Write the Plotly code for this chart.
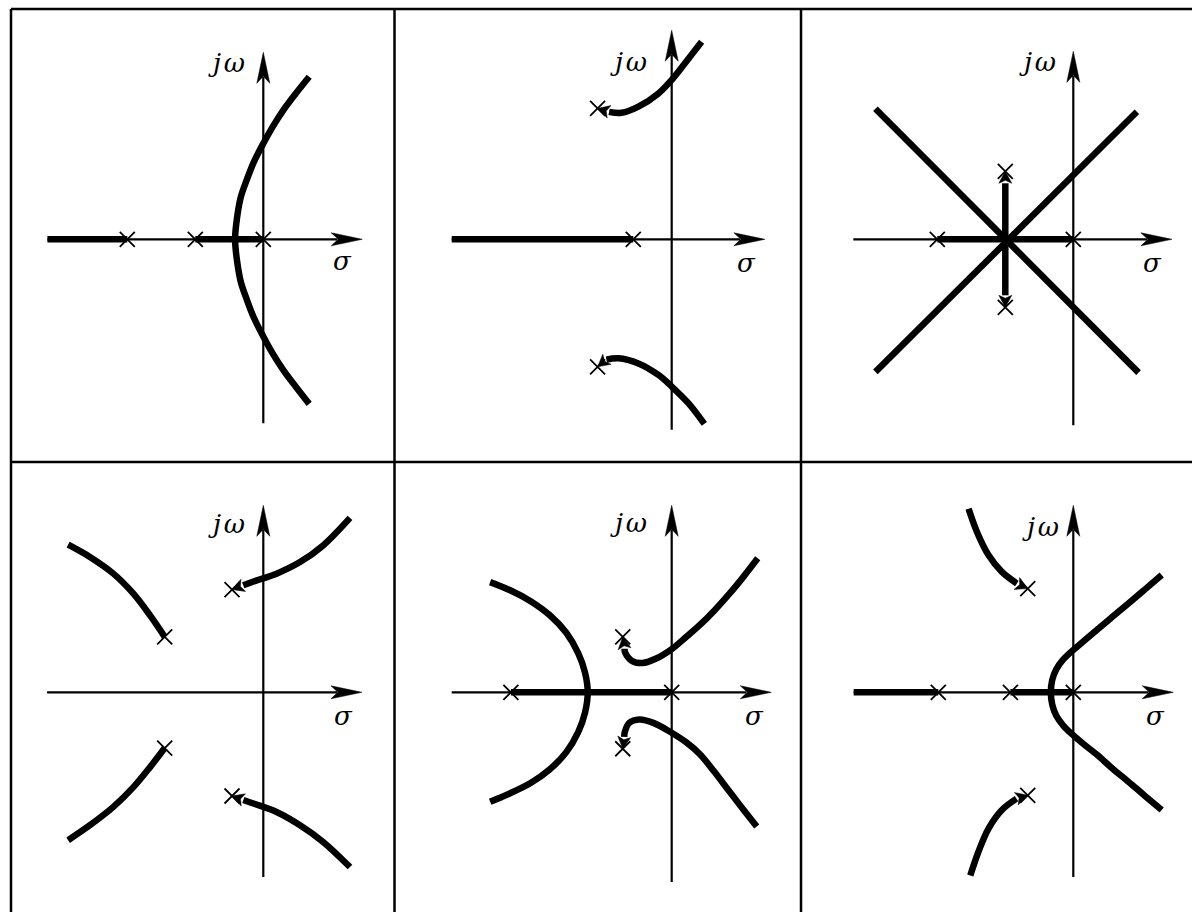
import numpy as np
import plotly.graph_objects as go

# ----------------------------------------------------------------------
# Root-locus sketches in s-plane units (real part, imaginary part)
# ----------------------------------------------------------------------

# (a) poles at 0, -2, -4
a_pole_re = [-4.0, -2.0, 0.0]
a_pole_im = [0.0, 0.0, 0.0]
a_real_locus = [[-6.35, -4.0], [-2.0, 0.0]]
a_curve_re = [1.35, 0.95, 0.59, 0.27, 0.0, -0.28, -0.49, -0.66, -0.76, -0.83,
              -0.76, -0.66, -0.49, -0.28, 0.0, 0.27, 0.59, 0.95, 1.35]
a_curve_im = [4.78, 4.28, 3.80, 3.30, 2.82, 2.27, 1.74, 1.25, 0.72, 0.0,
              -0.72, -1.26, -1.76, -2.30, -2.86, -3.35, -3.85, -4.33, -4.84]

# (b) one real pole, a lightly damped complex pair
b_pole_re = [-1.13, -2.18, -2.18]
b_pole_im = [0.0, 3.85, -3.75]
b_real_locus = [[-6.47, -1.13]]
b_upper_re = [-2.18, -1.86, -1.47, -0.98, -0.39, 0.0, 0.39, 0.88]
b_upper_im = [3.85, 3.75, 3.72, 3.90, 4.29, 4.69, 5.18, 5.81]
b_lower_re = [-2.18, -2.01, -1.57, -0.98, -0.39, 0.0, 0.49, 0.96]
b_lower_im = [-3.75, -3.55, -3.50, -3.65, -3.99, -4.33, -4.82, -5.43]

# (c) poles at 0, -4, -2 +/- 2j
c_pole_re = [-4.0, -2.0, -2.0, 0.0]
c_pole_im = [0.0, 2.0, -2.0, 0.0]
c_real_locus = [[-4.0, 0.0]]
c_diag1_re = [-5.82, 1.92]
c_diag1_im = [3.84, -3.92]
c_diag2_re = [-5.82, 1.87]
c_diag2_im = [-3.90, 3.75]
c_up_re = [-2.0, -2.0]
c_up_im = [2.0, 0.0]
c_down_re = [-2.0, -2.0]
c_down_im = [-2.0, 0.0]

# (d) two complex pairs
d_pole_re = [-0.92, -2.90, -2.90, -0.92]
d_pole_im = [3.02, 1.63, -1.64, -3.05]
d_ur_re = [-0.92, -0.29, 0.39, 1.08, 1.76, 2.55]
d_ur_im = [3.02, 3.26, 3.49, 3.83, 4.32, 5.13]
d_ul_re = [-2.90, -3.33, -3.82, -4.41, -5.10, -5.74]
d_ul_im = [1.63, 2.26, 2.90, 3.49, 3.98, 4.34]
d_ll_re = [-2.90, -3.33, -3.82, -4.41, -5.10, -5.74]
d_ll_im = [-1.64, -2.20, -2.79, -3.37, -3.91, -4.35]
d_lr_re = [-0.92, -0.29, 0.39, 1.08, 1.76, 2.55]
d_lr_im = [-3.05, -3.27, -3.52, -3.91, -4.40, -5.14]

# (e) poles at 0, -4.73, -1.44 +/- 1.65j
e_pole_re = [-4.73, 0.0, -1.44, -1.44]
e_pole_im = [0.0, 0.0, 1.63, -1.66]
e_real_locus = [[-4.73, 0.0]]
e_left_re = [-5.34, -4.75, -4.15, -3.60, -3.10, -2.75, -2.55, -2.47,
             -2.55, -2.75, -3.10, -3.60, -4.15, -4.75, -5.34]
e_left_im = [3.24, 3.00, 2.68, 2.28, 1.75, 1.15, 0.58, 0.0,
             -0.60, -1.17, -1.76, -2.28, -2.67, -2.97, -3.22]
e_upper_re = [-1.44, -1.37, -1.18, -0.86, -0.44, 0.0, 0.44, 0.83, 1.25, 1.70, 2.12, 2.53]
e_upper_im = [1.63, 1.17, 0.93, 0.86, 1.00, 1.27, 1.64, 1.98, 2.40, 2.90, 3.41, 3.94]
e_lower_re = [-1.44, -1.38, -1.25, -0.95, -0.54, -0.05, 0.44, 0.83, 1.25, 1.70, 2.10, 2.50]
e_lower_im = [-1.66, -1.17, -0.90, -0.80, -0.90, -1.16, -1.48, -1.82, -2.33, -2.92, -3.44, -3.95]

# (f) poles at 0, -1.85, -4, -1.34 +/- 3.04j
f_pole_re = [-3.97, -1.85, 0.0, -1.34, -1.34]
f_pole_im = [0.0, 0.0, 0.0, 3.05, -3.03]
f_real_locus = [[-6.46, -3.97], [-1.85, 0.0]]
f_right_re = [2.60, 2.10, 1.62, 1.15, 0.70, 0.30, -0.03, -0.30, -0.50, -0.62, -0.66,
              -0.62, -0.50, -0.30, -0.03, 0.30, 0.70, 1.15, 1.62, 2.10, 2.60]
f_right_im = [3.45, 3.02, 2.61, 2.22, 1.84, 1.50, 1.22, 0.96, 0.68, 0.36, 0.0,
              -0.36, -0.69, -0.97, -1.24, -1.52, -1.84, -2.24, -2.63, -3.04, -3.46]
f_ul_re = [-1.34, -1.41, -1.66, -2.10, -2.49, -2.83, -3.08]
f_ul_im = [3.05, 3.07, 3.20, 3.54, 4.03, 4.71, 5.40]
f_ll_re = [-1.34, -1.41, -1.66, -2.10, -2.49, -2.79, -3.03]
f_ll_im = [-3.03, -3.02, -3.12, -3.46, -4.00, -4.69, -5.39]

# Axis extents per panel: sigma from, sigma arrow tip, jw from, jw arrow tip
axis_sigma_from = [-6.35, -6.47, -6.47, -6.36, -6.47, -6.46]
axis_sigma_tip = [2.91, 2.74, 2.90, 2.90, 2.93, 2.94]
axis_jw_from = [-5.41, -5.60, -5.47, -5.43, -5.58, -5.43]
axis_jw_tip = [5.50, 6.15, 5.53, 5.50, 5.50, 5.50]

# Axis label anchors per panel
label_jw_re = [-1.08, -1.26, -1.05, -1.08, -1.26, -0.96]
label_jw_im = [5.18, 5.21, 5.21, 4.94, 4.97, 4.85]
label_sigma_re = [2.32, 2.20, 2.32, 2.35, 2.44, 2.41]
label_sigma_im = [-0.64, -0.70, -0.70, -0.70, -0.70, -0.70]

# Panel contents: (re, im, arrow toward the pole at the first point)
panels = [
    dict(poles=(a_pole_re, a_pole_im), real=a_real_locus,
         smooth=[(a_curve_re, a_curve_im, False)], straight=[]),
    dict(poles=(b_pole_re, b_pole_im), real=b_real_locus,
         smooth=[(b_upper_re, b_upper_im, True), (b_lower_re, b_lower_im, True)], straight=[]),
    dict(poles=(c_pole_re, c_pole_im), real=c_real_locus,
         smooth=[],
         straight=[(c_diag1_re, c_diag1_im, False), (c_diag2_re, c_diag2_im, False),
                   (c_up_re, c_up_im, True), (c_down_re, c_down_im, True)]),
    dict(poles=(d_pole_re, d_pole_im), real=[],
         smooth=[(d_ur_re, d_ur_im, True), (d_ul_re, d_ul_im, False),
                 (d_ll_re, d_ll_im, False), (d_lr_re, d_lr_im, True)], straight=[]),
    dict(poles=(e_pole_re, e_pole_im), real=e_real_locus,
         smooth=[(e_left_re, e_left_im, False), (e_upper_re, e_upper_im, True),
                 (e_lower_re, e_lower_im, True)], straight=[]),
    dict(poles=(f_pole_re, f_pole_im), real=f_real_locus,
         smooth=[(f_right_re, f_right_im, False), (f_ul_re, f_ul_im, True),
                 (f_ll_re, f_ll_im, True)], straight=[]),
]

# ----------------------------------------------------------------------
# Page geometry (pixels)
# ----------------------------------------------------------------------
W, H = 1192, 912
PX = 34.0                       # pixels per s-plane unit
COL_EDGES = [11.0, 394.5, 801.0, 1192.0]
ROW_EDGES = [9.0, 462.0, 912.0]
ORIGIN_X = [263.3, 671.7, 1073.3]
ORIGIN_Y = [239.3, 692.3]

AXIS_W = 2.2
LOCUS_W = 6.5
FRAME_W = 2.5
INK = "#000000"
LABEL_FONT = dict(family="DejaVu Serif", size=26, color=INK)

AX_HEAD = (31.0, 6.5, 7.0)      # length, half width, notch (px)
LOC_HEAD = (12.0, 6.5, 3.0)


def head(tip, direction, spec):
    length, half, notch = (v / PX for v in spec)
    d = np.asarray(direction, float)
    d = d / np.hypot(*d)
    n = np.array([-d[1], d[0]])
    t = np.asarray(tip, float)
    back = t - d * length
    pts = [t, back + n * half, t - d * (length - notch), back - n * half, t]
    return [p[0] for p in pts], [p[1] for p in pts]


def trim_start(re, im, dist):
    """Point at arc length `dist` from the start, and the remaining path."""
    pts = np.column_stack([re, im]).astype(float)
    acc = 0.0
    for i in range(1, len(pts)):
        seg = np.hypot(*(pts[i] - pts[i - 1]))
        if acc + seg >= dist:
            t = (dist - acc) / seg
            base = pts[i - 1] + t * (pts[i] - pts[i - 1])
            if t > 0.98:
                rest = np.vstack([base, pts[i + 1:]]) if i + 1 < len(pts) else base[None, :]
            else:
                rest = np.vstack([base, pts[i:]])
            return base, rest
        acc += seg
    return pts[-1], pts[-1:]


fig = go.Figure()


def add_line(xs, ys, k, width, shape="linear"):
    fig.add_trace(go.Scatter(
        x=list(xs), y=list(ys), mode="lines", xaxis=f"x{k}", yaxis=f"y{k}",
        line=dict(color=INK, width=width, shape=shape, smoothing=1.0),
        hoverinfo="skip", showlegend=False))


def add_fill(xs, ys, k):
    fig.add_trace(go.Scatter(
        x=xs, y=ys, mode="lines", fill="toself", fillcolor=INK, xaxis=f"x{k}", yaxis=f"y{k}",
        line=dict(color=INK, width=0.5), hoverinfo="skip", showlegend=False))


def add_branch(re, im, arrow, k, shape):
    if arrow:
        base, rest = trim_start(re, im, LOC_HEAD[0] / PX)
        hx, hy = head((re[0], im[0]), (re[0] - base[0], im[0] - base[1]), LOC_HEAD)
        add_line(rest[:, 0], rest[:, 1], k, LOCUS_W, shape)
        add_fill(hx, hy, k)
    else:
        add_line(re, im, k, LOCUS_W, shape)


layout_axes = {}
annotations = []
for idx, p in enumerate(panels):
    k = idx + 1
    r, c = divmod(idx, 3)
    ox, oy = ORIGIN_X[c], ORIGIN_Y[r]
    x0, x1 = COL_EDGES[c], COL_EDGES[c + 1]
    y0, y1 = ROW_EDGES[r], ROW_EDGES[r + 1]
    sfx = "" if k == 1 else str(k)
    layout_axes[f"xaxis{sfx}"] = dict(domain=[x0 / W, x1 / W], range=[(x0 - ox) / PX, (x1 - ox) / PX],
                                      visible=False, fixedrange=True, anchor=f"y{k}")
    layout_axes[f"yaxis{sfx}"] = dict(domain=[1 - y1 / H, 1 - y0 / H], range=[(oy - y1) / PX, (oy - y0) / PX],
                                      visible=False, fixedrange=True, anchor=f"x{k}")

    # coordinate axes with arrow heads
    L = AX_HEAD[0] / PX
    add_line([axis_sigma_from[idx], axis_sigma_tip[idx] - L * 0.8], [0, 0], k, AXIS_W)
    add_line([0, 0], [axis_jw_from[idx], axis_jw_tip[idx] - L * 0.8], k, AXIS_W)
    hx, hy = head((axis_sigma_tip[idx], 0.0), (1, 0), AX_HEAD)
    add_fill(hx, hy, k)
    hx, hy = head((0.0, axis_jw_tip[idx]), (0, 1), AX_HEAD)
    add_fill(hx, hy, k)

    # locus on the real axis, then the branches
    for seg in p["real"]:
        add_line(seg, [0, 0], k, LOCUS_W)
    for re, im, arrow in p["straight"]:
        add_branch(re, im, arrow, k, "linear")
    for re, im, arrow in p["smooth"]:
        add_branch(re, im, arrow, k, "spline")

    # open-loop poles
    fig.add_trace(go.Scatter(
        x=p["poles"][0], y=p["poles"][1], mode="markers", xaxis=f"x{k}", yaxis=f"y{k}",
        marker=dict(symbol="x-thin", size=15, line=dict(color=INK, width=1.8)),
        hoverinfo="skip", showlegend=False))

    annotations.append(dict(x=label_jw_re[idx], y=label_jw_im[idx], xref=f"x{k}", yref=f"y{k}",
                            text="<i>j\u200aω</i>", showarrow=False, font=LABEL_FONT))
    annotations.append(dict(x=label_sigma_re[idx], y=label_sigma_im[idx], xref=f"x{k}", yref=f"y{k}",
                            text="<i>σ</i>", showarrow=False, font=LABEL_FONT))

# frame grid
frame = []
top = 1 - ROW_EDGES[0] / H
left = COL_EDGES[0] / W
frame.append(dict(type="line", xref="paper", yref="paper", x0=left, x1=1.0, y0=top, y1=top))
frame.append(dict(type="line", xref="paper", yref="paper", x0=left, x1=left, y0=0.0, y1=top))
for xe in COL_EDGES[1:3]:
    frame.append(dict(type="line", xref="paper", yref="paper", x0=xe / W, x1=xe / W, y0=0.0, y1=top))
mid = 1 - ROW_EDGES[1] / H
frame.append(dict(type="line", xref="paper", yref="paper", x0=left, x1=1.0, y0=mid, y1=mid))
for s in frame:
    s["line"] = dict(color=INK, width=FRAME_W)

fig.update_layout(
    width=W, height=H, margin=dict(l=0, r=0, t=0, b=0),
    paper_bgcolor="white", plot_bgcolor="white",
    shapes=frame, annotations=annotations, showlegend=False,
    **layout_axes,
)

fig.write_html("out.html", config={"displayModeBar": False})
